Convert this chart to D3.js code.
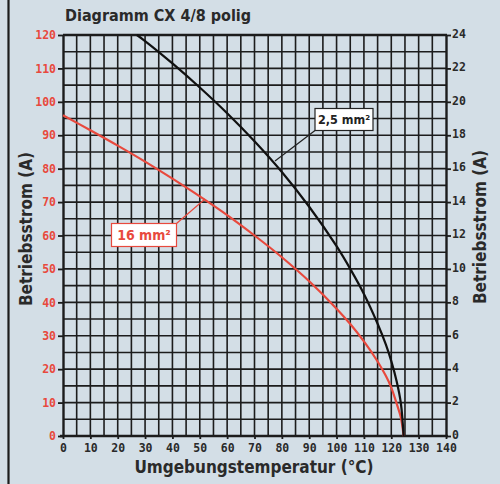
<!DOCTYPE html>
<html>
<head>
<meta charset="utf-8">
<script src="https://cdn.jsdelivr.net/npm/d3@7"></script>
<style>
  body { margin: 0; background: #d3dee6; }
  svg { display: block; }
</style>
</head>
<body>
<svg id="chart" width="500" height="484"></svg>
<script>
// temperature (°C) / current (A)
let tempThin = [27, 30, 40, 50, 60, 70, 80, 90, 100, 105, 110, 115, 118, 120, 122, 123.5, 124.5]
let ampThin = [120, 118.2, 111.5, 104.3, 96.6, 88.2, 79, 68.6, 56.8, 50, 42.5, 33.6, 27.4, 22.4, 16.2, 9.8, 0]

let tempThick = [0, 10, 20, 30, 40, 50, 60, 70, 80, 90, 100, 105, 110, 115, 118, 120, 122, 123.5, 124.5]
let ampThick = [96, 91.5, 86.9, 82.1, 77, 71.7, 66.1, 60, 53.5, 46.3, 38.1, 33.5, 28.3, 22.3, 18, 14.5, 9.6, 5.5, 0]

let xTicks = [0, 10, 20, 30, 40, 50, 60, 70, 80, 90, 100, 110, 120, 130, 140]
let yTicks = [0, 10, 20, 30, 40, 50, 60, 70, 80, 90, 100, 110, 120]
let yRightTicks = [0, 2, 4, 6, 8, 10, 12, 14, 16, 18, 20, 22, 24]

let red = "#e8493d"
let ink = "#1c1c1c"
let tickFont = "'DejaVu Sans Mono', monospace"
let labelFont = "'DejaVu Sans Condensed', 'DejaVu Sans', sans-serif"

let svg = d3.select("#chart")

let x = d3.scaleLinear().domain([0, 140]).range([63, 446])
let y = d3.scaleLinear().domain([0, 120]).range([436, 35])
let yR = d3.scaleLinear().domain([0, 24]).range([436, 35])

// frame line on the left
svg.append("line")
    .attr("x1", 8.5).attr("x2", 8.5)
    .attr("y1", 0).attr("y2", 484)
    .attr("stroke", ink).attr("stroke-width", 2.2)

// grid, every 5 units
let grid = svg.append("g")
grid.selectAll(".v")
    .data(d3.range(5, 140, 5))
    .enter()
    .append("line")
    .attr("x1", d => x(d)).attr("x2", d => x(d))
    .attr("y1", y(120)).attr("y2", y(0))
    .attr("stroke", ink).attr("stroke-width", 1.6)
grid.selectAll(".h")
    .data(d3.range(5, 120, 5))
    .enter()
    .append("line")
    .attr("x1", x(0)).attr("x2", x(140))
    .attr("y1", d => y(d)).attr("y2", d => y(d))
    .attr("stroke", ink).attr("stroke-width", 1.6)

// top border
svg.append("line")
    .attr("x1", x(0)).attr("x2", x(140) + 1)
    .attr("y1", y(120)).attr("y2", y(120))
    .attr("stroke", ink).attr("stroke-width", 2.4)

// axes
function styleAxis(g, color) {
    g.select(".domain").attr("stroke", ink).attr("stroke-width", 2.4)
    g.selectAll(".tick line").attr("stroke", ink).attr("stroke-width", 1.8)
    g.selectAll(".tick text")
        .attr("fill", color)
        .style("font-family", tickFont)
        .style("font-weight", "bold")
        .style("font-size", "11.5px")
}

let left = svg.append("g")
    .attr("transform", "translate(" + x(0) + ",0)")
    .call(d3.axisLeft(y).tickValues(yTicks).tickSize(5).tickSizeOuter(0).tickPadding(2))
styleAxis(left, red)

let right = svg.append("g")
    .attr("transform", "translate(" + x(140) + ",0)")
    .call(d3.axisRight(yR).tickValues(yRightTicks).tickSize(5).tickSizeOuter(0).tickPadding(1))
styleAxis(right, "#2a2a2a")
right.selectAll(".tick text").attr("dy", "0.2em")

let bottom = svg.append("g")
    .attr("transform", "translate(0," + y(0) + ")")
    .call(d3.axisBottom(x).tickValues(xTicks).tickSize(3).tickSizeOuter(0).tickPadding(5))
styleAxis(bottom, "#2a2a2a")
bottom.select(".domain").attr("d", "M" + (x(0) - 3) + ",0H" + (x(140) + 2))

// curves
let line = d3.line()
    .x(d => x(d[0]))
    .y(d => y(d[1]))
    .curve(d3.curveCatmullRom.alpha(0.5))

svg.append("path")
    .datum(d3.zip(tempThick, ampThick))
    .attr("d", line)
    .attr("fill", "none")
    .attr("stroke", red)
    .attr("stroke-width", 2.2)

svg.append("path")
    .datum(d3.zip(tempThin, ampThin))
    .attr("d", line)
    .attr("fill", "none")
    .attr("stroke", "#111")
    .attr("stroke-width", 2.2)

// callouts
function callout(label, color, size, bx, by, bw, bh, px, py) {
    svg.append("line")
        .attr("x1", bx + (color == red ? bw : 0)).attr("y1", by + (color == red ? 0 : bh))
        .attr("x2", px).attr("y2", py)
        .attr("stroke", color).attr("stroke-width", 1.2)
    svg.append("rect")
        .attr("x", bx).attr("y", by)
        .attr("width", bw).attr("height", bh)
        .attr("fill", "#fff")
        .attr("stroke", color).attr("stroke-width", 1.2)
    svg.append("text")
        .attr("x", bx + bw / 2).attr("y", by + bh / 2 + size * 0.36)
        .attr("text-anchor", "middle")
        .attr("fill", color)
        .style("font-family", labelFont)
        .style("font-weight", "bold")
        .style("font-size", size + "px")
        .text(label)
}
callout("2,5 mm²", "#222", 12.5, 315, 108.5, 58, 22, 275, 161)
callout("16 mm²", red, 14, 111.5, 223.5, 65, 23, 205, 199)

// titles
svg.append("text")
    .attr("x", 65).attr("y", 21)
    .attr("fill", "#2a2a2a")
    .style("font-family", labelFont)
    .style("font-weight", "bold")
    .style("font-size", "16px")
    .text("Diagramm CX 4/8 polig")

svg.append("text")
    .attr("x", 254).attr("y", 473)
    .attr("text-anchor", "middle")
    .attr("fill", "#2a2a2a")
    .style("font-family", labelFont)
    .style("font-weight", "bold")
    .style("font-size", "17px")
    .text("Umgebungstemperatur (°C)")

svg.append("text")
    .attr("transform", "translate(32,229) rotate(-90)")
    .attr("text-anchor", "middle")
    .attr("fill", "#2a2a2a")
    .style("font-family", labelFont)
    .style("font-weight", "bold")
    .style("font-size", "17px")
    .text("Betriebsstrom (A)")

svg.append("text")
    .attr("transform", "translate(486,227) rotate(-90)")
    .attr("text-anchor", "middle")
    .attr("fill", "#2a2a2a")
    .style("font-family", labelFont)
    .style("font-weight", "bold")
    .style("font-size", "17px")
    .text("Betriebsstrom (A)")
</script>
</body>
</html>
